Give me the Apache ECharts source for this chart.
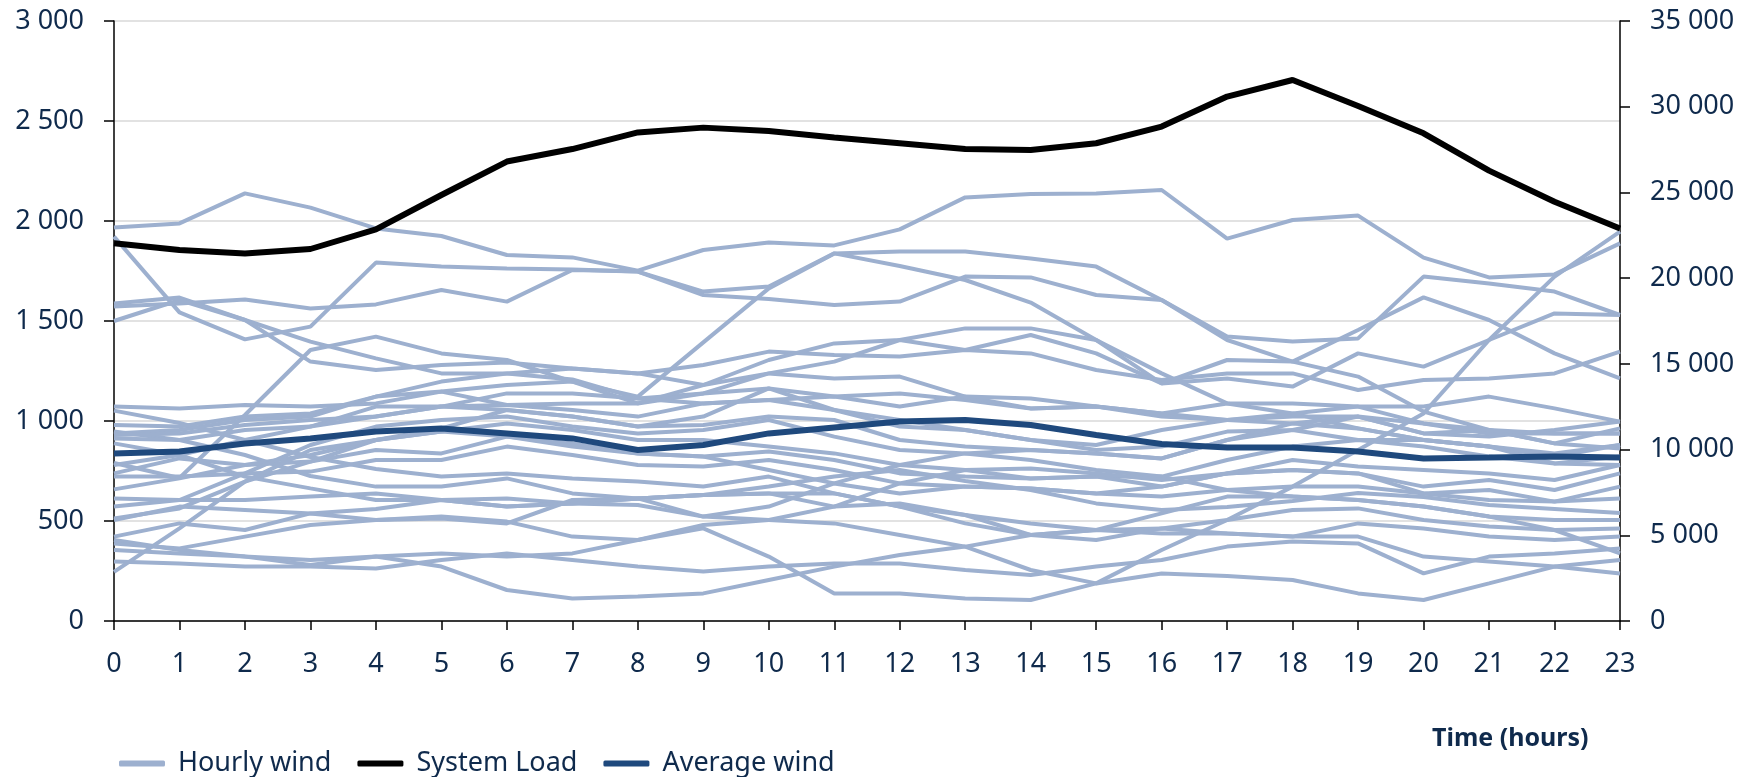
<!DOCTYPE html>
<html>
<head>
<meta charset="utf-8">
<script src="https://cdn.jsdelivr.net/npm/echarts@6/dist/echarts.min.js"></script>
<style>
html,body{margin:0;padding:0;background:#fff;}
#chart{width:1752px;height:777px;}
</style>
</head>
<body>
<div id="chart"></div>
<script>
const hours = ['0','1','2','3','4','5','6','7','8','9','10','11','12','13','14','15','16','17','18','19','20','21','22','23'];
const leftTicks = [0, 500, 1000, 1500, 2000, 2500, 3000];
const rightTicks = [0, 5000, 10000, 15000, 20000, 25000, 30000, 35000];

const systemLoad = [22030,21640,21440,21700,22840,24850,26800,27530,28500,28780,28580,28210,27870,27530,27480,27870,28840,30590,31560,30040,28450,26270,24460,22900];
const averageWind = [838,847,888,913,947,963,938,913,855,880,938,968,997,1005,980,930,885,868,868,847,813,817,822,818];

const wind01 = [1967,1988,2138,2067,1963,1925,1830,1818,1752,1855,1892,1878,1958,2118,2135,2138,2155,1912,2005,2027,1817,1718,1733,1888];
const wind02 = [1922,1543,1408,1472,1792,1772,1763,1758,1747,1647,1672,1838,1775,1705,1592,1405,1238,1088,1038,963,905,872,838,880];
const wind03 = [1572,1588,1608,1563,1583,1655,1597,1755,1747,1630,1610,1580,1597,1722,1718,1630,1605,1405,1297,1222,1047,955,888,863];
const wind04 = [1072,1063,1080,1072,1088,1147,1180,1197,1122,1393,1663,1838,1847,1847,1813,1772,1605,1422,1397,1413,1722,1688,1647,1530];
const wind05 = [1588,1617,1505,1397,1313,1238,1238,1208,1113,1138,1163,1122,1138,1105,1063,1072,1038,1005,988,1022,938,922,955,997];
const wind06 = [1500,1605,1505,1297,1255,1280,1292,1263,1238,1280,1347,1330,1322,1355,1338,1255,1205,1238,1238,1155,1205,1213,1238,1347];
const wind07 = [790,715,1030,1355,1422,1338,1305,1197,1088,1180,1305,1388,1405,1463,1463,1405,1188,1305,1297,1455,1618,1505,1338,1213];
const wind08 = [938,955,1005,1022,1122,1197,1238,1263,1238,1180,1238,1297,1405,1355,1430,1338,1188,1213,1172,1338,1272,1405,1538,1530];
const wind09 = [613,605,605,622,638,605,613,588,580,522,505,488,430,372,255,188,355,505,672,855,1038,1405,1722,1947];
const wind10 = [405,355,322,305,322,272,155,113,122,138,205,272,330,372,430,455,438,438,422,422,322,297,272,305];
const wind11 = [355,338,322,280,322,338,322,338,405,463,322,138,138,113,105,188,238,225,205,138,105,188,272,238];
const wind12 = [297,288,272,272,263,305,338,305,272,247,272,288,288,255,230,272,305,372,397,388,238,322,338,363];
const wind13 = [246,463,697,797,905,947,922,872,838,822,755,688,638,672,663,638,672,738,755,738,638,605,597,613];
const wind14 = [388,363,422,480,505,522,497,422,405,480,505,572,588,530,430,405,463,505,555,563,505,472,455,463];
const wind15 = [422,488,455,538,560,605,572,588,613,630,638,638,572,488,430,455,538,622,622,605,572,522,505,505];
const wind16 = [1052,990,905,820,760,722,738,713,697,672,722,638,572,530,488,455,463,438,422,488,463,422,405,422];
const wind17 = [980,972,1022,1038,1122,1147,1080,1088,1088,1138,1238,1213,1222,1122,1063,1072,1022,1005,1038,1072,1072,1122,1063,997];
const wind18 = [947,905,830,725,672,672,713,638,613,630,638,572,688,755,713,722,722,655,622,605,572,522,455,338];
const wind19 = [913,905,955,972,1072,1072,1055,1022,972,1022,1163,1055,972,955,905,855,872,947,955,1022,938,955,888,963];
const wind20 = [888,830,722,663,605,605,572,588,613,630,672,722,755,700,655,588,555,570,600,640,620,580,560,540];
const wind21 = [780,830,905,972,1022,1072,1080,1055,1022,1088,1105,1122,1072,1122,1113,1072,1038,1088,1088,1072,988,938,938,938];
const wind22 = [738,813,780,797,855,838,922,888,838,822,847,805,738,722,713,722,672,738,755,738,672,705,655,738];
const wind23 = [722,722,738,747,805,805,872,830,780,772,805,755,688,672,663,638,622,655,672,672,638,655,597,672];
const wind24 = [658,713,780,830,905,963,1055,1022,972,980,1022,1005,905,872,855,838,813,905,988,963,905,872,822,880];
const wind25 = [572,605,738,880,972,1005,1022,972,938,955,1005,922,855,838,805,755,722,805,872,905,872,822,788,822];
const wind26 = [930,938,980,1005,1022,1072,1138,1138,1113,1088,1105,1055,1005,955,905,880,955,1005,1022,1022,988,955,938,938];
const wind27 = [513,563,697,855,905,947,988,955,905,905,872,838,780,755,763,738,705,738,805,772,755,738,705,780];
const wind28 = [505,572,555,538,505,513,488,605,613,522,572,688,780,838,855,838,813,905,955,905,905,872,788,780];

const hourlyWind = [wind01,wind02,wind03,wind04,wind05,wind06,wind07,wind08,wind09,wind10,wind11,wind12,wind13,wind14,wind15,wind16,wind17,wind18,wind19,wind20,wind21,wind22,wind23,wind24,wind25,wind26,wind27,wind28];

const NAVY = '#0f2a4c';
const WIND_COLOR = '#9db0cf';
const AVG_COLOR = '#1f497d';
const FONT = 'Noto Sans';

function fmt(v){
  return String(v).replace(/\B(?=(\d{3})+(?!\d))/g, ' ');
}

const series = [];
hourlyWind.forEach(function(arr){
  series.push({
    name: 'Hourly wind', type: 'line', yAxisIndex: 0, data: arr,
    symbol: 'none', silent: true, z: 2,
    lineStyle: { color: WIND_COLOR, width: 4 }, itemStyle: { color: WIND_COLOR }
  });
});
series.push({
  name: 'System Load', type: 'line', yAxisIndex: 1, data: systemLoad,
  symbol: 'none', z: 4,
  lineStyle: { color: '#000000', width: 6 }, itemStyle: { color: '#000000' }
});
series.push({
  name: 'Average wind', type: 'line', yAxisIndex: 0, data: averageWind,
  symbol: 'none', z: 5,
  lineStyle: { color: AVG_COLOR, width: 6 }, itemStyle: { color: AVG_COLOR }
});

const chart = echarts.init(document.getElementById('chart'), null, { renderer: 'canvas' });
chart.setOption({
  animation: false,
  backgroundColor: '#ffffff',
  textStyle: { fontFamily: FONT },
  grid: { left: 114, right: 132, top: 21, bottom: 156, containLabel: false },
  legend: {
    left: 114, top: 745,
    itemWidth: 46, itemHeight: 6, itemGap: 26,
    icon: 'roundRect',
    data: ['Hourly wind', 'System Load', 'Average wind'],
    textStyle: { color: NAVY, fontSize: 27, fontFamily: FONT, padding: [0, 0, 0, 8] }
  },
  graphic: [{
    type: 'text', left: 1432, top: 726,
    style: { text: 'Time (hours)', fill: NAVY, font: 'bold 25px "Noto Sans"' }
  }],
  xAxis: {
    type: 'category', data: hours, boundaryGap: false,
    axisLine: { lineStyle: { color: '#000', width: 1.5 } },
    axisTick: { show: true, length: 9, lineStyle: { color: '#000', width: 1.5 }, alignWithLabel: true },
    axisLabel: { color: NAVY, fontSize: 27, fontFamily: FONT, margin: 30, interval: 0 },
    splitLine: { show: false }
  },
  yAxis: [{
    type: 'value', min: leftTicks[0], max: leftTicks[leftTicks.length-1], interval: 500,
    axisLine: { show: true, lineStyle: { color: '#000', width: 1.5 } },
    axisTick: { show: true, length: 10, lineStyle: { color: '#000', width: 1.5 } },
    axisLabel: { color: NAVY, fontSize: 27, fontFamily: FONT, margin: 30, formatter: fmt },
    splitLine: { show: true, lineStyle: { color: '#d9d9d9', width: 1.5 } }
  }, {
    type: 'value', position: 'right', min: rightTicks[0], max: rightTicks[rightTicks.length-1], interval: 5000,
    axisLine: { show: true, lineStyle: { color: '#000', width: 1.5 } },
    axisTick: { show: true, length: 10, lineStyle: { color: '#000', width: 1.5 } },
    axisLabel: { color: NAVY, fontSize: 27, fontFamily: FONT, margin: 30, formatter: fmt },
    splitLine: { show: false }
  }],
  series: series
});
</script>
</body>
</html>
